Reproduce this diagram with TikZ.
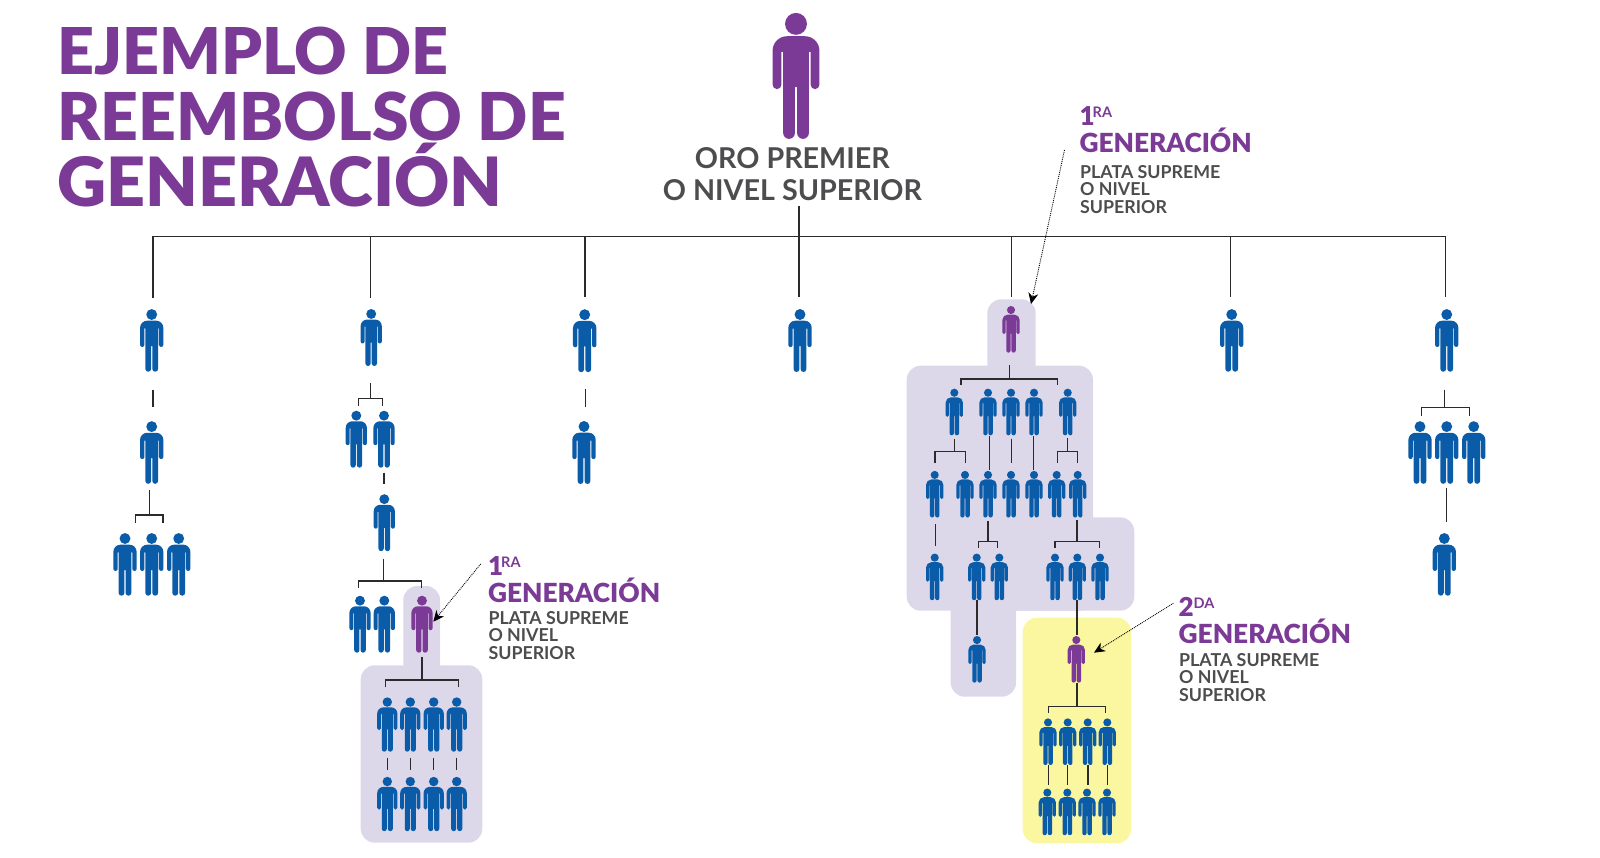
\documentclass[tikz,border=0pt]{standalone}
\usepackage{fontspec}
\usepackage{xcolor}
\usepackage{tikz}
\usetikzlibrary{arrows.meta, positioning, calc}
\newfontfamily\brandfont{Lato}
\newfontfamily\brandheavy{Lato Black}
\definecolor{manblue}{HTML}{0B5CA8}
\definecolor{manpurple}{HTML}{7B3A96}
\definecolor{softlilac}{HTML}{DDD7EA}
\definecolor{softyellow}{HTML}{FBF6A0}
\definecolor{textgray}{HTML}{4D4D4F}
\definecolor{linegray}{HTML}{2B2B2B}

% figure of a person, 100 units tall, drawn around the node centre
\newcommand{\manshape}[2]{%
  \begin{scope}[shift={(path picture bounding box.center)}, x={#1*0.01pt}, y={#1*0.01pt}]
    \fill[#2] (0,41.3) circle[radius=8.7];
    \fill[#2] (-18.6,-7) -- (-18.6,20) arc[start angle=180, end angle=90, radius=11.5]
      -- (7.1,31.5) arc[start angle=90, end angle=0, radius=11.5]
      -- (18.6,-7) arc[start angle=0, end angle=-180, radius=3.5]
      -- (11.6,19) -- (10.2,19)
      -- (10.2,-45.35) arc[start angle=0, end angle=-180, radius=4.65]
      -- (0.9,-9) -- (-0.9,-9)
      -- (-0.9,-45.35) arc[start angle=0, end angle=-180, radius=4.65]
      -- (-10.2,19) -- (-11.6,19)
      -- (-11.6,-7) arc[start angle=0, end angle=-180, radius=3.5] -- cycle;
  \end{scope}}
% stem from a parent down to a bracket
\newcommand{\treefork}[7]{%
  \coordinate (#1fork) at (#2,#4);
  \coordinate (#1forkl) at (#5,#7);
  \coordinate (#1forkr) at (#6,#7);
  \draw[link, shorten <=#3pt] (#1.south -| #1fork) -- (#1fork);
  \draw[link] (#1forkl) |- (#1fork) -| (#1forkr);}
% short line between two people
\newcommand{\manlink}[6]{%
  \draw[link, shorten <=#5pt, shorten >=#6pt] ([xshift=#3pt]#1.south) -- ([xshift=#4pt]#2.north);}

\begin{document}
\begin{tikzpicture}[
        x=1pt, y=-1pt,
        >=Stealth,
        man/.style 2 args={inner sep=0pt, minimum height=#1*1pt, minimum width=0.42*#1*1pt,
                           path picture={\manshape{#1}{#2}}},
        blueman/.style={man={#1}{manblue}},
        purpleman/.style={man={#1}{manpurple}},
        link/.style={draw=linegray, line width=1.3pt},
        dotarrow/.style={draw=black, line width=0.9pt, densely dotted,
                         -{Stealth[length=11pt, width=10pt]}},
        lilacbox/.style={fill=softlilac, rounded corners=14pt},
        yellowbox/.style={fill=softyellow, rounded corners=14pt},
        heading/.style={anchor=base west, inner sep=0pt, align=left, text=manpurple,
                        font=\brandheavy\fontsize{64}{66}\selectfont},
        ordnum/.style={anchor=base west, inner sep=0pt, text=manpurple,
                       font=\brandheavy\fontsize{26}{26}\selectfont},
        ordsup/.style={anchor=base west, inner sep=0pt, text=manpurple,
                       font=\brandfont\bfseries\fontsize{14.5}{14.5}\selectfont},
        gentitle/.style={anchor=base west, inner sep=0pt, text=manpurple,
                         font=\brandheavy\fontsize{26.3}{26.3}\selectfont},
        gentext/.style={anchor=base west, inner sep=0pt, align=left, text=textgray,
                        font=\brandfont\bfseries\fontsize{17.8}{17.5}\selectfont}
    ]
      \useasboundingbox (0,0) rectangle (1600,858);

      % --- Coloured areas behind the people ---
      \fill[lilacbox] (403.3,586) rectangle (440,690);
      \fill[lilacbox] (360.7,665.3) rectangle (482.3,842.7);
      \fill[lilacbox] (987.3,299.3) rectangle (1035.7,385);
      \fill[lilacbox] (906.7,365.7) rectangle (1093,610.7);
      \fill[lilacbox] (1000,517.3) rectangle (1134.3,610.7);
      \fill[lilacbox] (950.7,590) rectangle (1016,696.7);
      \fill[yellowbox] (1022.7,617.7) rectangle (1131,843.3);

      % --- Title ---
      \node[heading] (title) at (57,207) {\fontsize{64.5}{66}\selectfont EJEMPLO DE\\
        \fontsize{66}{66}\selectfont REEMBOLSO DE\\
        \fontsize{68}{66}\selectfont GENERACIÓN};

      % --- Top person ---
      \node[purpleman=126] (top) at (796,75.9) {};
      \node[anchor=base, inner sep=0pt, align=center, text=textgray,
            font=\brandfont\bfseries\fontsize{28.7}{32}\selectfont] (oro) at (792.4,201)
            {ORO PREMIER\\O NIVEL SUPERIOR};

      % --- First branch ---
      \node[blueman=62.7] (a1) at (151.7,340.4) {};
      \node[blueman=62.7] (a2) at (151.7,452.5) {};
      \node[blueman=62.7] (a3) at (125,564.4) {};
      \node[blueman=62.7] (a4) at (151.7,564.4) {};
      \node[blueman=62.7] (a5) at (178.7,564.4) {};

      % --- Second branch ---
      \node[blueman=57] (b1) at (371.2,337.5) {};
      \node[blueman=57] (b2) at (356.3,439.2) {};
      \node[blueman=57] (b3) at (384,439.2) {};
      \node[blueman=57] (b4) at (384.3,522.7) {};
      \node[blueman=57] (b5) at (360,624.2) {};
      \node[blueman=57] (b6) at (384.3,624.2) {};
      \node[purpleman=57] (b7) at (422,624.2) {};
      \node[blueman=54.4] (b8) at (387.3,724.5) {};
      \node[blueman=54.4] (b9) at (410.3,724.5) {};
      \node[blueman=54.4] (b10) at (433.7,724.5) {};
      \node[blueman=54.4] (b11) at (456.7,724.5) {};
      \node[blueman=54.4] (b12) at (387.3,804) {};
      \node[blueman=54.4] (b13) at (410.3,804) {};
      \node[blueman=54.4] (b14) at (433.7,804) {};
      \node[blueman=54.4] (b15) at (456.7,804) {};

      % --- Third and fourth branch ---
      \node[blueman=63] (c1) at (584.7,340.7) {};
      \node[blueman=63] (c2) at (584,452.5) {};
      \node[blueman=63] (d1) at (800,340.5) {};

      % --- Fifth branch ---
      \node[purpleman=46.7] (e1) at (1011,329.3) {};
      \node[blueman=46.7] (e2) at (954.3,412) {};
      \node[blueman=46.7] (e3) at (988,412) {};
      \node[blueman=46.7] (e4) at (1011,412) {};
      \node[blueman=46.7] (e5) at (1034,412) {};
      \node[blueman=46.7] (e6) at (1067.7,412) {};
      \node[blueman=46.7] (e7) at (934.7,494.2) {};
      \node[blueman=46.7] (e8) at (965,494.2) {};
      \node[blueman=46.7] (e9) at (988,494.2) {};
      \node[blueman=46.7] (e10) at (1011,494.2) {};
      \node[blueman=46.7] (e11) at (1034,494.2) {};
      \node[blueman=46.7] (e12) at (1056.7,494.2) {};
      \node[blueman=46.7] (e13) at (1077.7,494.2) {};
      \node[blueman=46.7] (e14) at (934.7,576.9) {};
      \node[blueman=46.7] (e15) at (976.7,576.9) {};
      \node[blueman=46.7] (e16) at (999.3,576.9) {};
      \node[blueman=46.7] (e17) at (1055,576.9) {};
      \node[blueman=46.7] (e18) at (1077.3,576.9) {};
      \node[blueman=46.7] (e19) at (1100,576.9) {};
      \node[blueman=46.7] (e20) at (977,659.3) {};
      \node[purpleman=46.7] (e21) at (1076.3,659.3) {};
      \node[blueman=46.7] (e22) at (1048,741.7) {};
      \node[blueman=46.7] (e23) at (1067.7,741.7) {};
      \node[blueman=46.7] (e24) at (1087.7,741.7) {};
      \node[blueman=46.7] (e25) at (1107.3,741.7) {};
      \node[blueman=46.7] (e26) at (1047.3,811.9) {};
      \node[blueman=46.7] (e27) at (1067.3,811.9) {};
      \node[blueman=46.7] (e28) at (1087,811.9) {};
      \node[blueman=46.7] (e29) at (1107,811.9) {};

      % --- Sixth and seventh branch ---
      \node[blueman=62.7] (f1) at (1231.7,340.4) {};
      \node[blueman=62.7] (g1) at (1446.7,340.4) {};
      \node[blueman=62.7] (g2) at (1420,452.5) {};
      \node[blueman=62.7] (g3) at (1446.7,452.5) {};
      \node[blueman=62.7] (g4) at (1473.7,452.5) {};
      \node[blueman=62.7] (g5) at (1444.3,564.4) {};

      % Main bar and the stems under it
      \coordinate (barA) at (153,236.3);
      \coordinate (barB) at (370.3,236.3);
      \coordinate (barC) at (585,236.3);
      \coordinate (barD) at (799,236.3);
      \coordinate (barE) at (1011.4,236.3);
      \coordinate (barF) at (1230.7,236.3);
      \coordinate (barG) at (1445.7,236.3);
      \draw[link, line cap=rect] (barA) -- (barG);
      \draw[link, shorten >=11pt] (barA) -- (a1.north -| barA);
      \draw[link, shorten >=11pt] (barB) -- (b1.north -| barB);
      \draw[link, shorten >=12pt] (barC) -- (c1.north -| barC);
      \draw[link, shorten <=5pt, shorten >=12pt] (oro.south -| barD) -- (d1.north -| barD);
      \draw[link, shorten >=9pt] (barE) -- (e1.north -| barE);
      \draw[link, shorten >=12pt] (barF) -- (f1.north -| barF);
      \draw[link, shorten >=12pt] (barG) -- (g1.north -| barG);

      % Lines of the first to fourth branch
      \manlink{a1}{a2}{1.3}{1.3}{18}{14.3}
      \treefork{a2}{149.7}{6}{515}{135.7}{163}{523}
      \treefork{b1}{370.3}{16.3}{398.3}{358.3}{382.7}{405.7}
      \manlink{b3}{b4}{0}{-0.3}{4.6}{10}
      \treefork{b4}{383.3}{7.3}{581}{358.3}{421.3}{588.3}
      \treefork{b7}{422}{4}{680}{385.7}{458.7}{687.3}
      \manlink{b8}{b12}{0}{0}{6}{6.3}
      \manlink{b9}{b13}{0}{0}{6}{6.3}
      \manlink{b10}{b14}{0}{0}{6}{6.3}
      \manlink{b11}{b15}{0}{0}{6}{6.3}
      \manlink{c1}{c2}{1}{1.7}{16.5}{14}

      % Lines of the fifth branch
      \treefork{e1}{1009.3}{12.3}{379}{961}{1057.7}{385}
      \treefork{e2}{954.7}{3.4}{451.7}{935}{965.3}{463}
      \manlink{e3}{e9}{1.3}{1.3}{0}{1}
      \manlink{e4}{e10}{0.3}{0.3}{3}{7.7}
      \manlink{e5}{e11}{-0.7}{-0.7}{0}{1}
      \treefork{e6}{1067.3}{2.4}{451.7}{1057.7}{1077.3}{463}
      \manlink{e7}{e14}{0.6}{0.6}{6}{7}
      \treefork{e9}{988}{3.4}{541.7}{978.3}{997.7}{547.7}
      \treefork{e13}{1077}{2.7}{541.7}{1055}{1099.3}{547.7}
      \manlink{e15}{e20}{0.3}{0}{0}{1}
      \manlink{e18}{e21}{-0.3}{0.7}{0}{1}
      \treefork{e21}{1077}{0.6}{706.7}{1048.7}{1105.7}{712.7}
      \manlink{e22}{e26}{0.5}{1.2}{0}{3.7}
      \manlink{e23}{e27}{0}{0.4}{0}{3.7}
      \manlink{e24}{e28}{0.3}{1}{0}{3.7}
      \manlink{e25}{e29}{0.3}{0.6}{0}{3.7}

      % Lines of the seventh branch
      \treefork{g1}{1444.7}{17.7}{407.3}{1421.7}{1469.3}{415.7}
      \manlink{g3}{g5}{0}{2.4}{4.3}{10.7}

      % --- Generation labels ---
      \node[ordnum] (numB) at (487.8,575.7) {1};
      \node[ordsup] (supB) at (501,567) {RA};
      \node[gentitle] (genB) at (487.8,602.3) {GENERACIÓN};
      \node[gentext] (txtB) at (488.3,659) {PLATA SUPREME\\O NIVEL\\SUPERIOR};

      \node[ordnum] (numE) at (1079.3,126) {1};
      \node[ordsup] (supE) at (1092.5,117.3) {RA};
      \node[gentitle] (genE) at (1079.3,152.7) {GENERACIÓN};
      \node[gentext] (txtE) at (1080,213.3) {PLATA SUPREME\\O NIVEL\\SUPERIOR};

      \node[ordnum] (numH) at (1178.5,616.7) {2};
      \node[ordsup] (supH) at (1193.5,608.3) {DA};
      \node[gentitle] (genH) at (1178.5,643.3) {GENERACIÓN};
      \node[gentext] (txtH) at (1179,701) {PLATA SUPREME\\O NIVEL\\SUPERIOR};

      % Dotted pointers
      \coordinate (startB) at (480.7,564);
      \coordinate (tipB) at (433.3,621.7);
      \coordinate (startE) at (1064.5,150);
      \coordinate (tipE) at (1031,304);
      \coordinate (startH) at (1173.3,603.3);
      \coordinate (tipH) at (1094,652.7);
      \draw[dotarrow] (startB) -- (tipB);
      \draw[dotarrow] (startE) -- (tipE);
      \draw[dotarrow] (startH) -- (tipH);
    \end{tikzpicture}
\end{document}
